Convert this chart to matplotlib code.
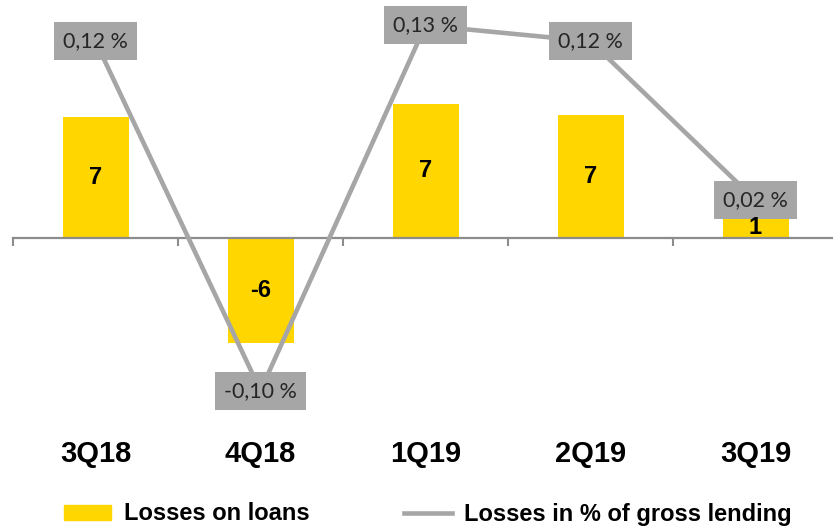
import numpy as np
import matplotlib
matplotlib.use('Agg')
import matplotlib.pyplot as plt
from matplotlib.patches import Patch
from matplotlib.lines import Line2D
import matplotlib.transforms as mtransforms

# data
quarters = ['3Q18', '4Q18', '1Q19', '2Q19', '3Q19']
losses = [6.6, -5.7, 7.3, 6.7, 1.1]          # losses on loans
loss_pct = [0.12, -0.10, 0.13, 0.12, 0.02]   # losses in % of gross lending

yellow = '#FFD600'
grey = '#A6A6A6'
axis_grey = '#8C8C8C'

fig = plt.figure(figsize=(8.33, 5.3), dpi=100)
ax = fig.add_axes([13 / 833, 110 / 530, 825 / 833, 420 / 530])

x = np.arange(len(quarters))
ax.bar(x, losses, width=0.4, color=yellow, zorder=2)
ax.set_xlim(-0.5, len(quarters) - 0.5)
ax.set_ylim(-9.89, 12.93)

# zero line with boundary ticks
for s in ['top', 'right', 'left']:
    ax.spines[s].set_visible(False)
ax.spines['bottom'].set_position(('data', 0))
ax.spines['bottom'].set_color(axis_grey)
ax.spines['bottom'].set_linewidth(1.6)
ax.set_xticks(np.arange(-0.5, len(quarters), 1))
ax.tick_params(axis='x', length=6, width=1.5, color=axis_grey, labelbottom=False)
ax.set_yticks([])

trans = mtransforms.blended_transform_factory(ax.transData, ax.transAxes)
for i, q in enumerate(quarters):
    ax.text(i, -0.081, q, transform=trans, ha='center', va='center',
            fontsize=21, fontweight='bold', family='Liberation Sans', color='black')

# secondary axis for the percentage line
ax2 = ax.twinx()
ax2.set_ylim(-0.1185, 0.1460)
ax2.axis('off')
ax2.plot(x, loss_pct, color=grey, lw=3.3, zorder=2, solid_capstyle='butt')

for i, v in enumerate(loss_pct):
    lab = f"{v:.2f} %".replace('.', ',')
    ax2.text(i, v, lab, ha='center', va='center', fontsize=15.5, family='Lato',
             color='#262626', zorder=5,
             bbox=dict(boxstyle='square,pad=0.42', facecolor=grey, edgecolor='none'))

for i, v in enumerate(losses):
    ax2.text(i, v / 2, f"{round(v):d}", transform=ax.transData, ha='center', va='center',
             fontsize=17, fontweight='bold', family='Liberation Sans', color='black', zorder=6)

handles = [Patch(color=yellow), Line2D([], [], color=grey, lw=3.3)]
fig.legend(handles, ['Losses on loans', 'Losses in % of gross lending'],
           loc='center left', bbox_to_anchor=(64 / 833, 16 / 530), ncol=2, frameon=False,
           prop=dict(family='Liberation Sans', weight='bold', size=17),
           handlelength=2.0, handleheight=0.6, handletextpad=0.55, columnspacing=4.0,
           borderpad=0, borderaxespad=0)

fig.savefig('out.png', dpi=100)
